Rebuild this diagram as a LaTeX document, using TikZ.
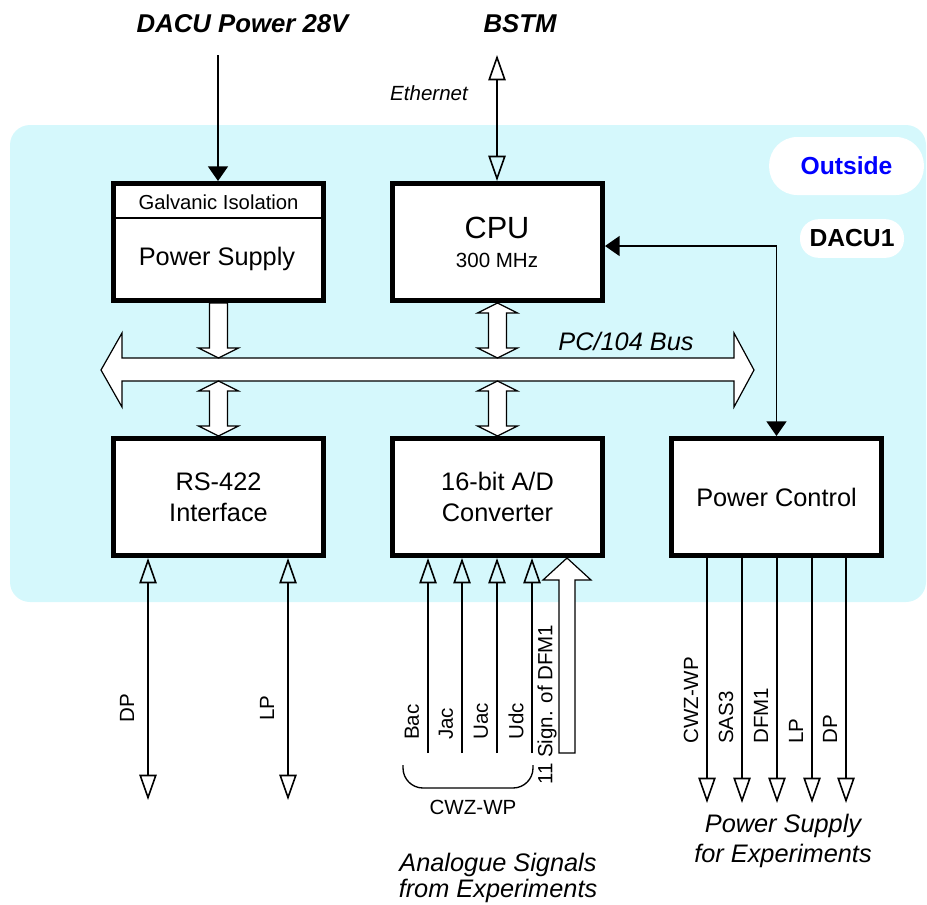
\documentclass[tikz,border=0pt]{standalone}
\usepackage{fontspec}
\setmainfont{Liberation Sans}
\usetikzlibrary{arrows.meta,calc}

\definecolor{dacubg}{RGB}{213,248,252}
\definecolor{outblue}{RGB}{0,0,255}

\tikzset{
  unit/.style={draw, line width=3.75pt, fill=white, minimum width=157.5pt, minimum height=87.75pt,
    inner sep=0pt, align=center, font=\fontsize{19}{23}\selectfont},
  txt/.style={inner sep=0.75pt, font=\fontsize{19}{23}\selectfont},
  tag/.style={inner sep=0.75pt, font=\fontsize{15.4}{19}\selectfont},
  note/.style={inner sep=0.75pt, font=\itshape\fontsize{19}{23}\selectfont},
  title/.style={inner sep=0.75pt, font=\bfseries\itshape\fontsize{19.3}{23}\selectfont},
  pill/.style={fill=white, inner sep=0pt, font=\bfseries\fontsize{18.5}{22}\selectfont},
  wire/.style={line width=1.2pt},
  hollow/.style={wire, -{Triangle[open, width=13pt, length=19pt]}},
  hollowboth/.style={wire, {Triangle[open, width=13pt, length=19pt]}-{Triangle[open, width=13pt, length=19pt]}},
  solidboth/.style={wire, {Triangle[width=15pt, length=11pt]}-{Triangle[width=15pt, length=11pt]}},
  fat/.style={draw, fill=white, line width=0.9pt, line join=miter}
}

% fat bus arrow, shaft from #1 down to tip #2
\newcommand{\fatdown}[2]{%
  \draw[fat] ($(#1)+(-9,0)$) -- ($(#2)+(-9,-10)$) -- ($(#2)+(-20,-10)$) -- (#2)
    -- ($(#2)+(20,-10)$) -- ($(#2)+(9,-10)$) -- ($(#1)+(9,0)$) -- cycle;}
% fat bus arrow with tips at #1 (top) and #2 (bottom)
\newcommand{\fatboth}[2]{%
  \draw[fat] (#1) -- ($(#1)+(20,10)$) -- ($(#1)+(9,10)$) -- ($(#2)+(9,-10)$) -- ($(#2)+(20,-10)$)
    -- (#2) -- ($(#2)+(-20,-10)$) -- ($(#2)+(-9,-10)$) -- ($(#1)+(-9,10)$) -- ($(#1)+(-20,10)$) -- cycle;}

\begin{document}
\begin{tikzpicture}[x=0.75pt,y=0.75pt,yscale=-1,xscale=1]
\useasboundingbox (0,0) rectangle (927,904);

% DACU1 housing
\fill[dacubg, rounded corners=15pt] (10,125) rectangle (926,602);
\node[pill, rounded corners=21pt, minimum width=116pt, minimum height=43.5pt, text=outblue] (outside) at (846.5,166) {Outside};
\node[pill, rounded corners=14pt, minimum width=78pt, minimum height=29pt] (dacu) at (852,238.5) {DACU1};

% units
\node[unit] (ps) at (218.5,242) {};
\node[unit] (cpu) at (497.5,242) {};
\node[unit] (rs) at (218.5,497) {RS-422\\Interface};
\node[unit] (ad) at (497.5,497) {16-bit A/D\\Converter};
\node[unit] (pc) at (776.5,497) {Power Control};

\draw[wire] (ps.west |- 0,218) -- (ps.east |- 0,218);
\node[txt, anchor=base, font=\fontsize{15.2}{18}\selectfont] (galv) at (218.5,209) {Galvanic Isolation};
\node[txt, anchor=base] (pslbl) at (217,265) {Power Supply};
\node[txt, anchor=base, font=\fontsize{23}{27}\selectfont] (cpulbl) at (497,238) {CPU};
\node[tag, anchor=base] (mhz) at (497,267) {300 MHz};

% inputs from outside
\node[title, anchor=base] (pwr) at (242.5,32) {DACU Power 28V};
\node[title, anchor=base] (bstm) at (520,32) {BSTM};
\coordinate (pwrtop) at (218,55);
\coordinate (bstmtop) at (497,55);
\draw[wire, -{Triangle[width=15pt, length=11pt]}] (pwrtop) -- (pwrtop |- ps.north);
\draw[hollowboth] (bstmtop) -- (bstmtop |- cpu.north);
\node[tag, anchor=base, font=\itshape\fontsize{15.4}{19}\selectfont] (eth) at (429,100) {Ethernet};

\draw[solidboth] ($(cpu.east)+(0,4)$) -| (pc.north);

% PC/104 bus
\coordinate (busL) at (101,370);
\coordinate (busR) at (754,370);
\coordinate (bustop) at (427,358);
\coordinate (busbot) at (427,381);
\draw[fat] (busL) -- ++(21,-37) -- ++(0,25) -- ($(busR)+(-20,-12)$) -- ++(0,-25) -- (busR)
  -- ++(-20,37) -- ++(0,-26) -- ($(busL)+(21,11)$) -- ++(0,26) -- cycle;
\node[note, anchor=base] (buslbl) at (626,350) {PC/104 Bus};

\fatdown{ps.south}{ps.south |- bustop}
\fatboth{cpu.south}{cpu.south |- bustop}
\fatboth{rs.north |- busbot}{rs.north}
\fatboth{ad.north |- busbot}{ad.north}

% RS-422 lines
\coordinate (dp) at (148,800);
\coordinate (lp) at (288,800);
\draw[hollowboth] (dp) -- (dp |- rs.south);
\draw[hollowboth] (lp) -- (lp |- rs.south);
\node[tag, rotate=90] (dplbl) at (127,708) {DP};
\node[tag, rotate=90] (lplbl) at (267,708) {LP};

% analogue inputs
\foreach \x/\lab in {428/Bac, 462/Jac, 497/Uac, 532/Udc} {
  \coordinate (in\x) at (\x,753);
  \draw[hollow] (in\x) -- (in\x |- ad.south);
  \node[tag, rotate=90, anchor=west] (l\x) at (\x-16,741) {\lab};
}
\coordinate (dfm) at (567,753);
\draw[fat] ($(dfm)+(-8,0)$) -- ($(dfm |- ad.south)+(-8,22)$) -- ($(dfm |- ad.south)+(-24,22)$) -- (dfm |- ad.south)
  -- ($(dfm |- ad.south)+(24,22)$) -- ($(dfm |- ad.south)+(8,22)$) -- ($(dfm)+(8,0)$) -- cycle;
\node[tag, rotate=90, anchor=west] (dfmlbl) at (547,786) {11 Sign. of DFM1};
\draw[line width=1pt, rounded corners=15pt] (403,765) -- (403,788) -- (533,788) -- (533,765);
\node[tag] (cwz) at (473,807) {CWZ-WP};
\node[note, anchor=base] (ana1) at (498,871) {Analogue Signals};
\node[note, anchor=base] (ana2) at (498,897) {from Experiments};

% power outputs
\foreach \x/\lab in {707/CWZ-WP, 742/SAS3, 777/DFM1, 812/LP, 846/DP} {
  \coordinate (o\x) at (\x,803);
  \draw[hollow] (pc.south -| o\x) -- (o\x);
  \node[tag, rotate=90, anchor=west] (p\x) at (\x-16,745) {\lab};
}
\node[note, anchor=base] (sup1) at (783,832) {Power Supply};
\node[note, anchor=base] (sup2) at (783,862) {for Experiments};

\end{tikzpicture}
\end{document}
